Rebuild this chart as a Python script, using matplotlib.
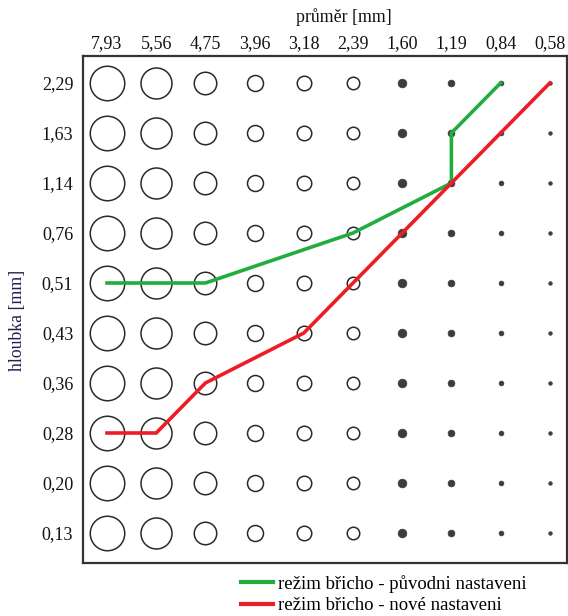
import matplotlib
matplotlib.use("Agg")
import matplotlib.pyplot as plt
from matplotlib.lines import Line2D

# ---- data ----
diameters = ["7,93", "5,56", "4,75", "3,96", "3,18", "2,39", "1,60", "1,19", "0,84", "0,58"]
depths = ["2,29", "1,63", "1,14", "0,76", "0,51", "0,43", "0,36", "0,28", "0,20", "0,13"]

green_diam = ["7,93", "4,75", "2,39", "1,19", "1,19", "0,84"]
green_depth = ["0,51", "0,51", "0,76", "1,14", "1,63", "2,29"]

red_diam = ["7,93", "5,56", "4,75", "3,18", "2,39", "1,60", "1,19", "0,84", "0,58"]
red_depth = ["0,28", "0,28", "0,36", "0,43", "0,51", "0,76", "1,14", "1,63", "2,29"]

green_label = "režim břicho - původni nastaveni"
red_label = "režim břicho - nové nastaveni"

# ---- styles ----
marker_px = [34.5, 31, 22.5, 16, 14.5, 12.5, 8.7, 6.8, 4.8, 3.6]
filled = [False, False, False, False, False, False, True, True, True, True]

plt.rcParams['font.family'] = ['Liberation Serif', 'DejaVu Serif']

W, H = 568, 616
fig = plt.figure(figsize=(W / 100, H / 100), dpi=100)
ax_left, ax_right, ax_top, ax_bottom = 83, 567, 56, 563
ax = fig.add_axes([ax_left / W, 1 - ax_bottom / H, (ax_right - ax_left) / W, (ax_bottom - ax_top) / H])

xi = {d: i for i, d in enumerate(diameters)}
yi = {d: j for j, d in enumerate(depths)}

for i, d in enumerate(diameters):
    ms = marker_px[i] * 0.72
    for j, dep in enumerate(depths):
        if filled[i]:
            ax.plot(i, j, 'o', ms=ms, mfc='#3c3c3c', mec='#3c3c3c', mew=0.5, zorder=2)
        else:
            ax.plot(i, j, 'o', ms=ms, mfc='none', mec='#2a2a2a', mew=1.1, zorder=2)

ax.plot([xi[d] for d in green_diam], [yi[d] for d in green_depth], color='#21ad3f', lw=2.6,
        solid_capstyle='projecting', solid_joinstyle='miter', zorder=3)
ax.plot([xi[d] for d in red_diam], [yi[d] for d in red_depth], color='#ee1c25', lw=2.6,
        solid_capstyle='projecting', solid_joinstyle='miter', zorder=4)

sp = 49.2
ax.set_xlim((ax_left - 107) / sp, (ax_right - 107) / sp)
ax.set_ylim((ax_bottom - 83) / 50.0, (ax_top - 83) / 50.0)

ax.set_xticks(range(len(diameters)))
ax.set_xticklabels(diameters)
ax.set_yticks(range(len(depths)))
ax.set_yticklabels(depths)
ax.xaxis.tick_top()
ax.tick_params(axis='x', length=0, pad=3, labelsize=13, colors='#111111')
ax.tick_params(axis='y', length=0, pad=7, labelsize=13, colors='#111111')
for s in ax.spines.values():
    s.set_linewidth(1.6)
    s.set_color('#333333')

fig.text(344 / W, 1 - 17 / H, "průměr [mm]", ha='center', va='center', fontsize=12.8, color='#111111')
fig.text(18 / W, 1 - 320 / H, "hloubka [mm]", ha='center', va='center', rotation=90,
         fontsize=12.8, color='#1f2050')

handles = [Line2D([], [], color='#21ad3f', lw=3), Line2D([], [], color='#ee1c25', lw=3)]
fig.legend(handles, [green_label, red_label], loc='upper left',
           bbox_to_anchor=(241 / W, 1 - 575 / H), frameon=False, fontsize=13.5,
           handlelength=1.7, handletextpad=0.3, labelspacing=0.22, borderpad=0, borderaxespad=0)

fig.savefig("out.png", dpi=100)
